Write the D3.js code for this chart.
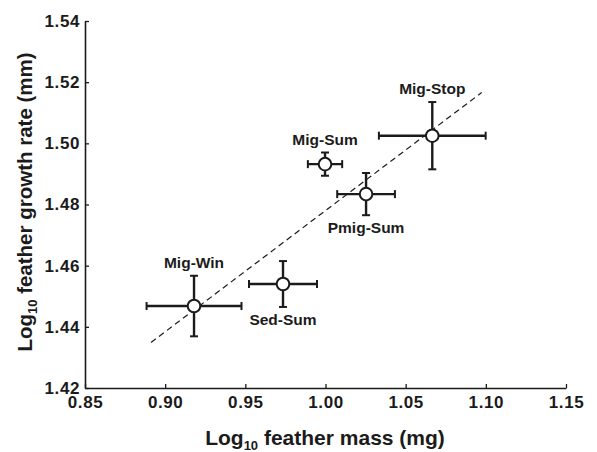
<!DOCTYPE html>
<html><head><meta charset="utf-8">
<script src="https://cdn.jsdelivr.net/npm/d3@7"></script>
<style>
body{margin:0;background:#fff;}
svg{display:block;font-family:"Liberation Sans",Arial,sans-serif;font-weight:bold;}
</style></head>
<body>
<script>
const groups = ["Mig-Win","Sed-Sum","Mig-Sum","Pmig-Sum","Mig-Stop"];
const massMean = [0.918, 0.9735, 0.9997, 1.0253, 1.0666];
const massErr = [0.0296, 0.0212, 0.0107, 0.0180, 0.0333];
const growthMean = [1.4468, 1.4540, 1.4932, 1.4834, 1.5025];
const growthErr = [0.0099, 0.0075, 0.0038, 0.0069, 0.0110];
const labelSide = ["above","below","above","below","above"];
const fitX = [0.8912, 1.0974];
const fitY = [1.4349, 1.5166];
const xTicks = [0.85,0.90,0.95,1.00,1.05,1.10,1.15];
const yTicks = [1.42,1.44,1.46,1.48,1.50,1.52,1.54];

const W=597,H=452, ink="#1b1b1b";
const svg=d3.select("body").append("svg").attr("width",W).attr("height",H);
const x=d3.scaleLinear().domain([0.85,1.15]).range([85,566]);
const y=d3.scaleLinear().domain([1.42,1.54]).range([388,21]);

const xa=svg.append("g").attr("transform","translate(0,388)")
 .call(d3.axisBottom(x).tickValues(xTicks).tickFormat(d3.format(".2f")).tickSizeInner(-4).tickSizeOuter(0).tickPadding(8));
const ya=svg.append("g").attr("transform","translate(85,0)")
 .call(d3.axisLeft(y).tickValues(yTicks).tickFormat(d3.format(".2f")).tickSizeInner(-4).tickSizeOuter(0).tickPadding(5));
[xa,ya].forEach(a=>{
 a.select(".domain").attr("stroke",ink).attr("stroke-width",1.6);
 a.selectAll(".tick line").attr("stroke",ink).attr("stroke-width",1.3);
 a.selectAll(".tick text").attr("fill",ink).style("font-size","17px").style("font-family","'Liberation Sans',Arial,sans-serif").style("font-weight","bold").style("letter-spacing","0.6px");
});

// fit line
svg.append("line").attr("x1",x(fitX[0])).attr("y1",y(fitY[0])).attr("x2",x(fitX[1])).attr("y2",y(fitY[1]))
 .attr("stroke",ink).attr("stroke-width",1.2).attr("stroke-dasharray","6,4");

const data=groups.map((g,i)=>({g,mx:massMean[i],ex:massErr[i],my:growthMean[i],ey:growthErr[i],side:labelSide[i]}));
const cap=4;
const pts=svg.append("g").selectAll("g").data(data).join("g");
pts.append("line").attr("x1",d=>x(d.mx-d.ex)).attr("x2",d=>x(d.mx+d.ex)).attr("y1",d=>y(d.my)).attr("y2",d=>y(d.my)).attr("stroke",ink).attr("stroke-width",2.4);
pts.append("line").attr("x1",d=>x(d.mx)).attr("x2",d=>x(d.mx)).attr("y1",d=>y(d.my-d.ey)).attr("y2",d=>y(d.my+d.ey)).attr("stroke",ink).attr("stroke-width",2.4);
pts.append("line").attr("x1",d=>x(d.mx-d.ex)).attr("x2",d=>x(d.mx-d.ex)).attr("y1",d=>y(d.my)-cap).attr("y2",d=>y(d.my)+cap).attr("stroke",ink).attr("stroke-width",2);
pts.append("line").attr("x1",d=>x(d.mx+d.ex)).attr("x2",d=>x(d.mx+d.ex)).attr("y1",d=>y(d.my)-cap).attr("y2",d=>y(d.my)+cap).attr("stroke",ink).attr("stroke-width",2);
pts.append("line").attr("x1",d=>x(d.mx)-cap).attr("x2",d=>x(d.mx)+cap).attr("y1",d=>y(d.my+d.ey)).attr("y2",d=>y(d.my+d.ey)).attr("stroke",ink).attr("stroke-width",2);
pts.append("line").attr("x1",d=>x(d.mx)-cap).attr("x2",d=>x(d.mx)+cap).attr("y1",d=>y(d.my-d.ey)).attr("y2",d=>y(d.my-d.ey)).attr("stroke",ink).attr("stroke-width",2);
pts.append("circle").attr("cx",d=>x(d.mx)).attr("cy",d=>y(d.my)).attr("r",6.3).attr("fill","#fff").attr("stroke",ink).attr("stroke-width",2);
pts.append("text").attr("x",d=>x(d.mx)).attr("y",d=>d.side==="above"?y(d.my+d.ey)-8:y(d.my-d.ey)+18)
 .attr("text-anchor","middle").attr("fill",ink).style("font-size","15.5px").text(d=>d.g);

// axis titles
const xt=svg.append("text").attr("x",325).attr("y",445).attr("text-anchor","middle").attr("fill",ink).style("font-size","21px");
xt.append("tspan").text("Log");
xt.append("tspan").attr("dy",5).style("font-size","13px").text("10");
xt.append("tspan").attr("dy",-5).text(" feather mass (mg)");
const yt=svg.append("text").attr("transform","translate(32,202) rotate(-90)").attr("text-anchor","middle").attr("fill",ink).style("font-size","20.5px");
yt.append("tspan").text("Log");
yt.append("tspan").attr("dy",5).style("font-size","13px").text("10");
yt.append("tspan").attr("dy",-5).text(" feather growth rate (mm)");
</script>
</body></html>
